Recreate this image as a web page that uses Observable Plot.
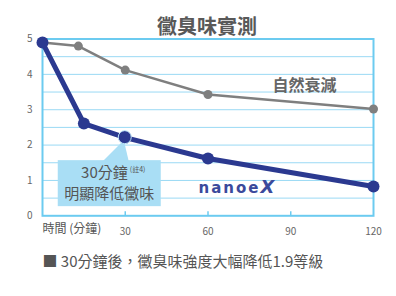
<!DOCTYPE html>
<html>
<head>
<meta charset="utf-8">
<script src="https://cdn.jsdelivr.net/npm/d3@7"></script>
<script src="https://cdn.jsdelivr.net/npm/@observablehq/plot@0.6"></script>
<style>
  html, body { margin: 0; padding: 0; background: #fff; }
  #chart svg { display: block; font-family: "Noto Sans CJK TC", "Noto Sans", sans-serif; }
</style>
</head>
<body>
<div id="chart"></div>
<script>
// ---- data ----
const natTime = [0, 13, 30, 60, 120];
const natValue = [4.9, 4.8, 4.12, 3.43, 3.02];
const nanoTime = [0, 15, 30, 60, 120];
const nanoValue = [4.9, 2.61, 2.21, 1.62, 0.83];
const xTicks = [30, 60, 90, 120];
const xMinorTicks = [30, 60, 90];
const yTicks = [0, 1, 2, 3, 4, 5];
const gridValues = [0.5, 1, 1.5, 2, 2.5, 3, 3.5, 4, 4.5];
const titleText = "黴臭味實測";
const captionText = "■ 30分鐘後，黴臭味強度大幅降低1.9等級";
const xAxisTitle = "時間 (分鐘)";
const natLabel = {t: 95, v: 3.68, text: "自然衰減"};
const nanoLabel = {t: 70.5, v: 0.74, text: "nanoe"};
const callout = {t: 30, v: 2.21, line1: "30分鐘", note: "(註4)", line2: "明顯降低黴味"};

const nat = natTime.map((t, i) => ({t, v: natValue[i]}));
const nano = nanoTime.map((t, i) => ({t, v: nanoValue[i]}));

const navy = "#2b3990";
const gray = "#7f7f7f";
const sky = "#6ccbf0";
const grid = "#9ad9f4";

const plot = Plot.plot({
  width: 396,
  height: 296,
  marginLeft: 42,
  marginRight: 23,
  marginTop: 38.5,
  marginBottom: 80.7,
  x: {domain: [0, 120]},
  y: {domain: [0, 5]},
  marks: [
    Plot.ruleY(gridValues, {stroke: grid, strokeWidth: 1}),
    Plot.frame({stroke: sky, strokeWidth: 2}),
    Plot.ruleX(xMinorTicks, {x: d => d, y1: 0, y2: 0, insetTop: -4, stroke: sky, strokeWidth: 1.5}),
    Plot.axisY({ticks: yTicks, tickFormat: "d", tickSize: 0, tickPadding: 10, fontSize: 10, fill: "#666", label: null}),
    Plot.axisX({ticks: xTicks, tickSize: 0, tickPadding: 12, fontSize: 10, fill: "#666", label: null}),
    Plot.line(nat, {x: "t", y: "v", stroke: gray, strokeWidth: 2.5}),
    Plot.dot(nat, {x: "t", y: "v", fill: gray, r: 4.5}),
    Plot.line(nano, {x: "t", y: "v", stroke: navy, strokeWidth: 5}),
    Plot.dot(nano, {x: "t", y: "v", fill: navy, r: 6}),
    Plot.text([natLabel], {x: "t", y: "v", text: "text", fontSize: 16, fontWeight: "bold", fill: "#666"}),
    Plot.text([titleText], {frameAnchor: "top", dy: -19.5, dx: -1, text: d => d, fontSize: 20, fontWeight: "bold", fill: "#595959"}),
    Plot.text([xAxisTitle], {frameAnchor: "bottom-left", dy: 17, textAnchor: "start", text: d => d, fontSize: 12, fill: "#555"}),
    Plot.text([captionText], {frameAnchor: "bottom-left", dy: 51.5, textAnchor: "start", text: d => d, fontSize: 15, fill: "#555"})
  ]
});

// callout box and logo placed through the plot's scales
const sx = plot.scale("x"), sy = plot.scale("y");
const svg = d3.select(plot);
const px = sx.apply(callout.t), py = sy.apply(callout.v);
const g = svg.append("g");
const bx0 = px - 67, bx1 = px + 36, by0 = py + 23, by1 = py + 69;
g.append("path")
  .attr("d", `M${px - 22},${by0 + 1} L${px - 1},${py + 3} L${px + 4},${by0 + 1} Z`)
  .attr("fill", "#a9def5");
g.append("rect").attr("x", bx0).attr("y", by0).attr("width", bx1 - bx0).attr("height", by1 - by0).attr("fill", "#a9def5");
const t1 = g.append("text").attr("x", (bx0 + bx1) / 2 + 4).attr("y", by0 + 18).attr("text-anchor", "middle")
  .attr("font-size", 15).attr("fill", "#555");
t1.append("tspan").text(callout.line1);
t1.append("tspan").attr("font-size", 7).attr("dy", -6).attr("dx", 2).text(callout.note);
g.append("text").attr("x", (bx0 + bx1) / 2).attr("y", by0 + 39).attr("text-anchor", "middle")
  .attr("font-size", 15).attr("fill", "#555").text(callout.line2);
// redraw the highlighted point on top with a light ring
g.append("circle").attr("cx", px).attr("cy", py).attr("r", 6.5).attr("fill", navy).attr("stroke", "#bfe6f8").attr("stroke-width", 1);

const lx = sx.apply(nanoLabel.t), ly = sy.apply(nanoLabel.v);
const logo = svg.append("text").attr("x", lx).attr("y", ly).attr("text-anchor", "middle").attr("dy", "0.35em")
  .attr("font-family", "DejaVu Sans, sans-serif").attr("font-weight", "bold").attr("fill", "#3b4a9c");
logo.append("tspan").attr("font-size", 15).attr("letter-spacing", 2).text(nanoLabel.text);
logo.append("tspan").attr("font-size", 18).attr("font-style", "italic").text("X");

document.getElementById("chart").append(plot);
</script>
</body>
</html>
